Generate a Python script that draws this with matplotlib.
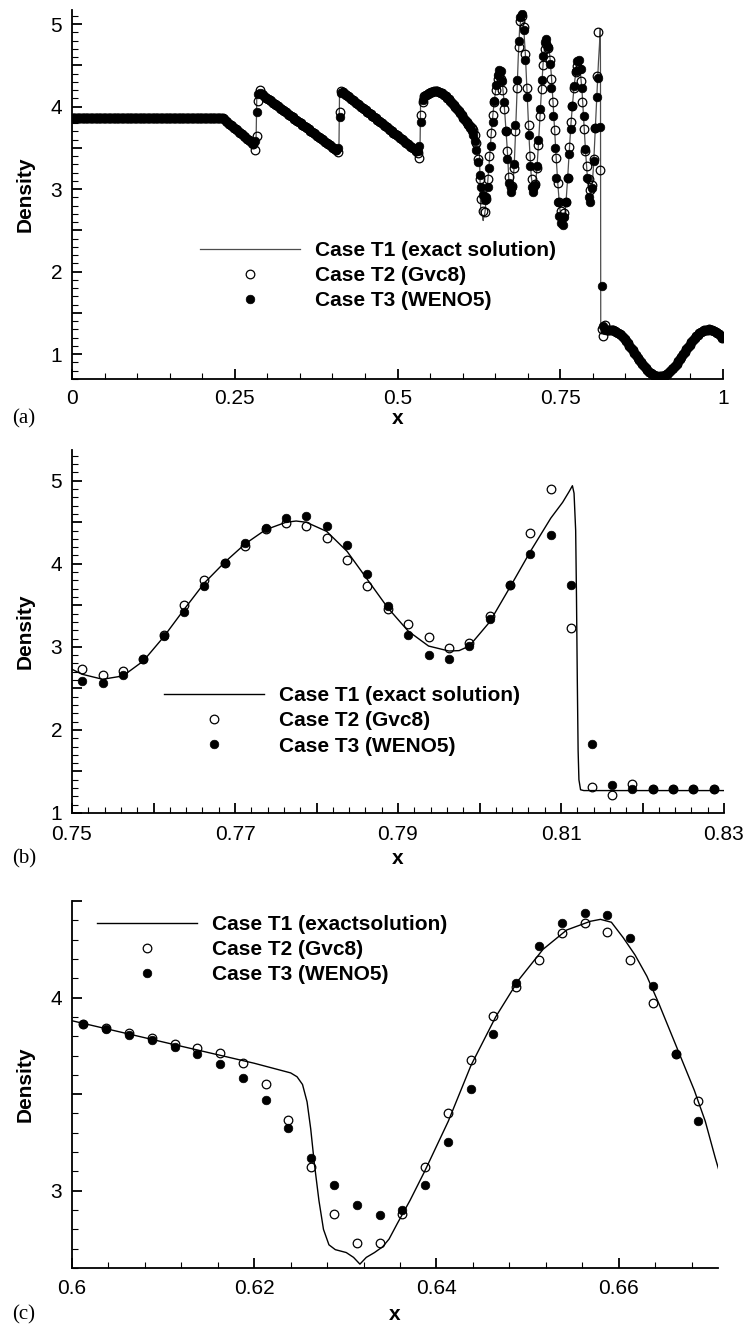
import numpy as np
import matplotlib.pyplot as plt
from matplotlib.ticker import MultipleLocator, FuncFormatter

plt.rcParams['font.family'] = ['Liberation Sans', 'DejaVu Sans']
plt.rcParams['mathtext.default'] = 'regular'

# uniform mesh, values stored at cell centres
n_cells = 400
x_cells = (np.arange(n_cells) + 0.5) / n_cells

# ---- density on the mesh (both schemes agree where arrays are shared) ----
rho_plateau = [
    3.857, 3.857, 3.857, 3.857, 3.857, 3.857, 3.857, 3.857, 3.857, 3.857,
    3.857, 3.857, 3.857, 3.857, 3.857, 3.857, 3.857, 3.857, 3.857, 3.857,
    3.857, 3.857, 3.857, 3.857, 3.857, 3.857, 3.857, 3.857, 3.857, 3.857,
    3.857, 3.857, 3.857, 3.857, 3.857, 3.857, 3.857, 3.857, 3.857, 3.857,
    3.857, 3.857, 3.857, 3.857, 3.857, 3.857, 3.857, 3.857, 3.857, 3.857,
    3.857, 3.857, 3.857, 3.857, 3.857, 3.857, 3.857, 3.857, 3.857, 3.857,
    3.857, 3.857, 3.857, 3.857, 3.857, 3.857, 3.857, 3.857, 3.857, 3.857,
    3.857, 3.857, 3.857, 3.857, 3.857, 3.857, 3.857, 3.857, 3.857, 3.857,
    3.857, 3.857, 3.857, 3.857, 3.857, 3.857, 3.857, 3.857, 3.857, 3.857,
    3.857, 3.857, 3.857,
    3.845, 3.828, 3.812, 3.795, 3.778, 3.762, 3.745, 3.728, 3.712, 3.695,
    3.678, 3.662, 3.645, 3.628, 3.612, 3.595, 3.578, 3.562, 3.545,
]
jump1_gvc8 = [3.48, 3.64, 4.07, 4.20]
jump1_weno5 = [3.58, 3.93, 4.15, 4.17]
rho_tooth2 = [
    4.150, 4.135, 4.121, 4.106, 4.091, 4.076, 4.062, 4.047, 4.032, 4.018,
    4.003, 3.988, 3.973, 3.959, 3.944, 3.929, 3.914, 3.900, 3.885, 3.870,
    3.855, 3.841, 3.826, 3.811, 3.796, 3.782, 3.767, 3.752, 3.737, 3.723,
    3.708, 3.693, 3.678, 3.664, 3.649, 3.634, 3.619, 3.605, 3.590, 3.575,
    3.560, 3.546, 3.531, 3.516, 3.501, 3.487, 3.472,
]
jump2_gvc8 = [3.45, 3.93, 4.19]
jump2_weno5 = [3.50, 3.87, 4.16]
rho_tooth3 = [
    4.174, 4.158, 4.142, 4.127, 4.111, 4.095, 4.079, 4.064, 4.048, 4.032,
    4.016, 4.001, 3.985, 3.969, 3.953, 3.938, 3.922, 3.906, 3.890, 3.875,
    3.859, 3.843, 3.827, 3.812, 3.796, 3.780, 3.764, 3.749, 3.733, 3.717,
    3.701, 3.686, 3.670, 3.654, 3.638, 3.623, 3.607, 3.591, 3.575, 3.560,
    3.544, 3.528, 3.512, 3.497, 3.481, 3.465,
]
jump3_gvc8 = [3.44, 3.38, 3.90, 4.05, 4.13]
jump3_weno5 = [3.46, 3.52, 3.81, 4.08, 4.12]
rho_hump = [
    4.140, 4.155, 4.168, 4.177, 4.182, 4.185, 4.185, 4.183, 4.178, 4.170,
    4.160, 4.145, 4.130, 4.110, 4.090, 4.070, 4.045, 4.020, 3.995, 3.970,
    3.945, 3.920, 3.893,
]
# cells 240-267 (x = 0.60125 ... 0.66875)
zoom_c_gvc8 = [
    3.865, 3.843, 3.817, 3.791, 3.761, 3.740, 3.713, 3.661, 3.554, 3.367,
    3.125, 2.882, 2.732, 2.728, 2.879, 3.125, 3.401, 3.675, 3.903, 4.055,
    4.197, 4.332, 4.384, 4.337, 4.197, 3.972, 3.709, 3.467,
]
zoom_c_weno5 = [
    3.865, 3.836, 3.806, 3.779, 3.744, 3.706, 3.657, 3.583, 3.471, 3.324,
    3.170, 3.028, 2.924, 2.874, 2.901, 3.031, 3.251, 3.526, 3.813, 4.073,
    4.266, 4.384, 4.439, 4.427, 4.311, 4.059, 3.709, 3.363,
]
# cells 268-299
mid_gvc8 = [
    3.15, 3.02, 3.04, 3.26, 3.70, 4.22, 4.72, 5.04, 5.10, 4.96,
    4.64, 4.22, 3.78, 3.40, 3.12, 3.01, 3.06, 3.25, 3.54, 3.88,
    4.21, 4.50, 4.70, 4.76, 4.71, 4.57, 4.34, 4.05, 3.72, 3.38,
    3.07, 2.84,
]
mid_weno5 = [
    3.08, 2.97, 3.03, 3.30, 3.78, 4.32, 4.80, 5.09, 5.12, 4.93,
    4.57, 4.12, 3.66, 3.28, 3.03, 2.96, 3.05, 3.28, 3.60, 3.97,
    4.32, 4.61, 4.78, 4.82, 4.72, 4.52, 4.23, 3.88, 3.50, 3.14,
    2.85, 2.68,
]
# cells 300-331 (x = 0.75125 ... 0.82875)
zoom_b_gvc8 = [
    2.73, 2.66, 2.71, 2.85, 3.14, 3.51, 3.81, 4.01, 4.22, 4.42,
    4.49, 4.46, 4.31, 4.05, 3.73, 3.46, 3.28, 3.12, 2.99, 3.05,
    3.37, 3.74, 4.37, 4.90, 3.23, 1.31, 1.22, 1.35, 1.29, 1.29,
    1.29, 1.29,
]
zoom_b_weno5 = [
    2.59, 2.56, 2.66, 2.85, 3.13, 3.42, 3.73, 4.01, 4.25, 4.43,
    4.55, 4.57, 4.46, 4.23, 3.88, 3.49, 3.14, 2.90, 2.85, 3.01,
    3.34, 3.74, 4.12, 4.35, 3.75, 1.83, 1.34, 1.29, 1.29, 1.29,
    1.29, 1.29,
]
rho_tail = [
    1.293, 1.285, 1.275, 1.261, 1.245, 1.227, 1.206, 1.183, 1.158, 1.132,
    1.105, 1.076, 1.047, 1.018, 0.988, 0.959, 0.931, 0.903, 0.877, 0.852,
    0.829, 0.807, 0.788, 0.772, 0.758, 0.747, 0.738, 0.733, 0.730, 0.731,
    0.734, 0.741, 0.751, 0.763, 0.778, 0.796, 0.816, 0.838, 0.862, 0.887,
    0.914, 0.942, 0.971, 1.000, 1.030, 1.059, 1.088, 1.116, 1.143, 1.168,
    1.193, 1.215, 1.234, 1.252, 1.267, 1.279, 1.289, 1.296, 1.299, 1.300,
    1.297, 1.292, 1.283, 1.272, 1.258, 1.242, 1.223, 1.201,
]

# ---- exact solution (reference curve) ----
exact_left_x = [0.0, 0.232, 0.2826, 0.2840, 0.4100, 0.4110, 0.5345, 0.5355,
                0.5400, 0.5450, 0.5500, 0.5550, 0.5600, 0.5650, 0.5700,
                0.5750, 0.5800, 0.5850, 0.5900, 0.5950]
exact_left_y = [3.857, 3.857, 3.52, 4.19, 3.45, 4.21, 3.43, 4.07,
                4.12, 4.155, 4.177, 4.185, 4.183, 4.172, 4.152,
                4.125, 4.08, 4.035, 3.985, 3.935]
exact_c_x = [0.6000, 0.6050, 0.6100, 0.6150, 0.6200, 0.6240, 0.6247, 0.6253,
             0.6258, 0.6262, 0.6266, 0.6271, 0.6276, 0.6282, 0.6289, 0.6301,
             0.6309, 0.6316, 0.6323, 0.6332, 0.6341, 0.6348, 0.6357, 0.6371,
             0.6387, 0.6413, 0.6438, 0.6465, 0.6490, 0.6517, 0.6543, 0.6569,
             0.6580, 0.6592, 0.6605, 0.6618, 0.6631, 0.6644, 0.6657, 0.6670,
             0.6683, 0.6695, 0.6706, 0.6716]
exact_c_y = [3.88, 3.825, 3.77, 3.715, 3.66, 3.61, 3.59, 3.55,
             3.46, 3.32, 3.14, 2.95, 2.80, 2.72, 2.695, 2.68,
             2.655, 2.62, 2.655, 2.68, 2.71, 2.75, 2.83, 2.95,
             3.10, 3.36, 3.65, 3.90, 4.09, 4.25, 4.35, 4.395,
             4.405, 4.39, 4.31, 4.22, 4.11, 3.97, 3.82, 3.67,
             3.52, 3.36, 3.17, 3.01]
exact_mid_x = [0.6735, 0.6755, 0.6775, 0.6795, 0.6815, 0.6835, 0.6855, 0.6875,
               0.6905, 0.6935, 0.6965, 0.6995, 0.7025, 0.7055, 0.7090, 0.7115,
               0.7140, 0.7165, 0.7190, 0.7215, 0.7240, 0.7265, 0.7290, 0.7315,
               0.7340, 0.7365, 0.7390, 0.7415, 0.7440, 0.7465, 0.7490]
exact_mid_y = [2.92, 2.97, 3.06, 3.33, 3.72, 4.17, 4.60, 4.93,
               5.14, 5.00, 4.62, 4.10, 3.56, 3.15, 2.96, 3.03,
               3.23, 3.54, 3.90, 4.25, 4.56, 4.76, 4.83, 4.77,
               4.61, 4.36, 4.04, 3.69, 3.35, 3.04, 2.79]
exact_b_x = [0.7500, 0.75125, 0.75375, 0.75625, 0.75875, 0.76125, 0.76375,
             0.76625, 0.76875, 0.77125, 0.77375, 0.77625, 0.7775, 0.77875,
             0.78125, 0.78375, 0.78625, 0.78875, 0.79125, 0.79375, 0.79625,
             0.7975, 0.79875, 0.80125, 0.80375, 0.80625, 0.80875, 0.8102,
             0.8110, 0.8114, 0.8116, 0.8118, 0.8119, 0.8120, 0.8121, 0.8122,
             0.8124, 0.8128, 0.8300]
exact_b_y = [2.73, 2.67, 2.61, 2.65, 2.83, 3.12, 3.45,
             3.77, 4.02, 4.24, 4.41, 4.50, 4.515, 4.50,
             4.39, 4.15, 3.81, 3.47, 3.19, 3.01, 2.95,
             2.955, 3.01, 3.30, 3.72, 4.15, 4.55, 4.74,
             4.87, 4.94, 4.85, 4.40, 3.60, 2.60, 1.75, 1.40,
             1.28, 1.27, 1.27]

labels = ['Case T1 (exact solution)', 'Case T2 (Gvc8)', 'Case T3 (WENO5)']
labels_c = ['Case T1 (exactsolution)', 'Case T2 (Gvc8)', 'Case T3 (WENO5)']

rho_gvc8 = np.concatenate([rho_plateau, jump1_gvc8, rho_tooth2, jump2_gvc8,
                           rho_tooth3, jump3_gvc8, rho_hump, zoom_c_gvc8,
                           mid_gvc8, zoom_b_gvc8, rho_tail])
rho_weno5 = np.concatenate([rho_plateau, jump1_weno5, rho_tooth2, jump2_weno5,
                            rho_tooth3, jump3_weno5, rho_hump, zoom_c_weno5,
                            mid_weno5, zoom_b_weno5, rho_tail])
exact_x = np.concatenate([exact_left_x, exact_c_x, exact_mid_x, exact_b_x[:-1],
                          x_cells[332:]])
exact_y = np.concatenate([exact_left_y, exact_c_y, exact_mid_y, exact_b_y[:-1],
                          rho_tail])

W, H = 744, 1326
fig = plt.figure(figsize=(W / 100, H / 100), dpi=100)


def px_axes(left, right, top, bottom):
    return fig.add_axes([left / W, 1 - bottom / H, (right - left) / W,
                         (bottom - top) / H])


def only_integers(v, pos):
    r = round(v)
    return '%d' % r if abs(v - r) < 1e-6 else ''


def style(ax, xmaj, xmin, xfmt, ylabel_x, xlabel_y, xpad):
    for side in ('top', 'right'):
        ax.spines[side].set_visible(False)
    for side in ('left', 'bottom'):
        ax.spines[side].set_linewidth(1.3)
    ax.xaxis.set_major_locator(MultipleLocator(xmaj))
    ax.xaxis.set_minor_locator(MultipleLocator(xmin))
    ax.xaxis.set_major_formatter(FuncFormatter(xfmt))
    ax.yaxis.set_major_locator(MultipleLocator(0.5))
    ax.yaxis.set_minor_locator(MultipleLocator(0.1))
    ax.yaxis.set_major_formatter(FuncFormatter(only_integers))
    ax.tick_params(which='both', direction='in', top=False, right=False,
                   labelsize=15)
    ax.tick_params(which='major', length=7, width=1.3)
    ax.tick_params(which='minor', length=4, width=0.8)
    ax.tick_params(axis='x', pad=xpad)
    ax.tick_params(axis='y', pad=7)
    ax.set_ylabel('Density', fontsize=15, fontweight='bold')
    ax.yaxis.label.set_va('center')
    ax.yaxis.set_label_coords(ylabel_x, 0.5)
    ax.set_xlabel('x', fontsize=15, fontweight='bold')
    ax.xaxis.label.set_va('center')
    ax.xaxis.set_label_coords(0.5, xlabel_y)


def draw(ax, xe, ye, xs, g, w, line_color, line_width):
    h1, = ax.plot(xe, ye, color=line_color, lw=line_width, zorder=2)
    h2, = ax.plot(xs, g, 'o', ls='none', ms=6.2, mfc='none', mec='k',
                  mew=0.9, zorder=3)
    h3, = ax.plot(xs, w, 'o', ls='none', ms=6.2, mfc='k', mec='k',
                  mew=0.5, zorder=4)
    return [h1, h2, h3]


def legend(ax, handles, names, x0, top):
    ax.legend(handles, names, loc='upper left',
              bbox_to_anchor=(x0 / W, 1 - top / H),
              bbox_transform=fig.transFigure, frameon=False, numpoints=1,
              handlelength=4.8, handletextpad=0.7, labelspacing=0.3,
              borderpad=0, borderaxespad=0,
              prop={'size': 15, 'weight': 'bold'})


fmt_g = lambda v, pos: '%g' % round(v, 4)
fmt_b = lambda v, pos: ('%.2f' % v) if round(v * 100) % 2 == 1 else ''

# (a) whole domain
ax_a = px_axes(72, 723, 10, 379)
h = draw(ax_a, exact_x, exact_y, x_cells, rho_gvc8, rho_weno5, '0.3', 0.9)
ax_a.set_xlim(0, 1)
ax_a.set_ylim(0.7, 5.17)
style(ax_a, 0.25, 0.05, fmt_g, (25 - 72) / 651, -(419 - 379) / 369, 7)
legend(ax_a, h, labels, 200, 241)

# (b) close-up around the shock
ax_b = px_axes(72, 724, 450, 813)
sl_b = slice(300, 332)
h = draw(ax_b, exact_b_x, exact_b_y, x_cells[sl_b], zoom_b_gvc8, zoom_b_weno5,
         'k', 1.0)
ax_b.set_xlim(0.75, 0.83)
ax_b.set_ylim(1.0, 5.37)
style(ax_b, 0.01, 0.002, fmt_b, (25 - 72) / 652, -(858 - 813) / 363, 9)
legend(ax_b, h, labels, 164, 686)

# (c) close-up of the first dip
ax_c = px_axes(72, 718, 901, 1268)
sl_c = slice(240, 268)
h = draw(ax_c, exact_c_x, exact_c_y, x_cells[sl_c], zoom_c_gvc8, zoom_c_weno5,
         'k', 1.0)
ax_c.set_xlim(0.6, 0.6709)
ax_c.set_ylim(2.6, 4.5)
style(ax_c, 0.02, 0.004, fmt_g, (25 - 72) / 646, -(1315 - 1268) / 367, 8)
legend(ax_c, h, labels_c, 97, 915)

for tag, yc in (('(a)', 419), ('(b)', 859), ('(c)', 1315)):
    fig.text(12 / W, 1 - yc / H, tag, family='Liberation Serif', fontsize=15,
             ha='left', va='center')

fig.savefig('out.png', dpi=100)
